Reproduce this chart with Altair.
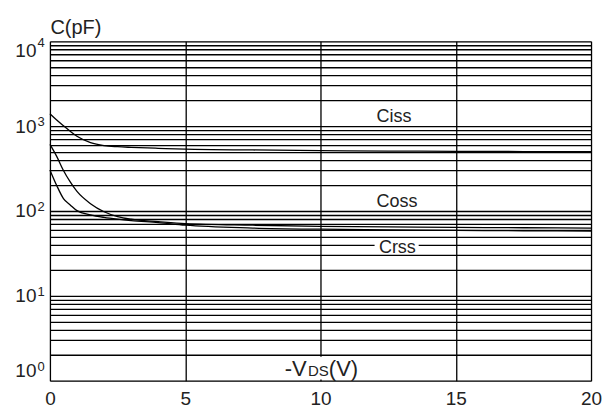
import altair as alt
import pandas as pd

# ---- data ----
vds = [0, 0.25, 0.5, 0.75, 1, 1.5, 2, 2.5, 3, 4, 5, 7.5, 10, 12.5, 15, 17.5, 20]
ciss = [1400, 1180, 1010, 870, 760, 640, 590, 572, 562, 548, 536, 524, 515, 509, 505, 502, 500]
coss = [610, 440, 300, 220, 170, 122, 98, 86, 80, 75, 71, 68, 66, 65, 64, 63.5, 63]
crss = [305, 200, 140, 118, 101, 90, 84, 80, 77, 73, 68, 63, 61, 60, 59, 58.5, 58]

x_ticks = [0, 5, 10, 15, 20]
y_grid = [m * 10 ** e for e in range(0, 4) for m in range(1, 10)] + [10000]
decades = [1, 10, 100, 1000, 10000]
exponents = ["0", "1", "2", "3", "4"]

curve_labels = ["Ciss", "Coss", "Crss"]
label_x = [12.07, 12.07, 12.16]
label_y = [1105, 110, 31.7]

box_x = [12.0, 8.6]
box_x2 = [13.63, 11.41]
box_y = [31.5, 1.03]
box_y2 = [44.5, 1.92]

xlab_text = ["-V", "DS", "(V)"]
xlab_x = [8.68, 9.54, 10.31]
xlab_size = [22, 15, 22]
xlab_y = [1.145, 1.145, 1.145]

FONT = "Liberation Sans"
TXT = "#222222"

rows = []
for name, vals in (("Ciss", ciss), ("Coss", coss), ("Crss", crss)):
    for v, c in zip(vds, vals):
        rows.append({"vds": v, "c": c, "series": name})
df = pd.DataFrame(rows)

xscale = alt.Scale(domain=[0, 20], nice=False)
yscale = alt.Scale(type="log", domain=[1, 10000], nice=False)

label_expr = "indexof([1,10,100,1000,10000], datum.value) >= 0 ? '10' : ''"

lines = alt.Chart(df).mark_line(color="black", strokeWidth=1.3, interpolate="monotone").encode(
    x=alt.X("vds:Q", scale=xscale,
            axis=alt.Axis(values=x_ticks, grid=True, gridColor="black", gridWidth=1.3,
                          gridOpacity=1, ticks=False, domain=False, labelFontSize=19,
                          labelFont=FONT, labelColor=TXT, labelPadding=9, labelFlush=False,
                          title=None)),
    y=alt.Y("c:Q", scale=yscale,
            axis=alt.Axis(values=y_grid, grid=True, gridColor="black", gridWidth=1.3,
                          gridOpacity=1, ticks=False, domain=False, labelFontSize=19,
                          labelFont=FONT, labelColor=TXT, labelPadding=14,
                          labelExpr=label_expr, labelOverlap=False, labelFlush=True,
                          title="C(pF)", titleAngle=0, titleX=0, titleY=-8,
                          titleAlign="left", titleBaseline="alphabetic",
                          titleFont=FONT, titleFontSize=20, titleFontWeight="normal",
                          titleColor=TXT)),
    detail="series:N",
)

exp_df = pd.DataFrame({"v": decades, "t": exponents})


def exp_layer(data, dy):
    return alt.Chart(data).mark_text(
        align="left", baseline="alphabetic", font=FONT, fontSize=13, color=TXT, dy=dy
    ).encode(x=alt.value(-12.5), y=alt.Y("v:Q", scale=yscale), text="t:N")


exp_mid = exp_layer(exp_df.iloc[1:4], 0)
exp_top = exp_layer(exp_df.iloc[4:5], 6)
exp_bot = exp_layer(exp_df.iloc[0:1], -10)

boxes = alt.Chart(pd.DataFrame({"x": box_x, "x2": box_x2, "y": box_y, "y2": box_y2})).mark_rect(
    color="white", opacity=1
).encode(
    x=alt.X("x:Q", scale=xscale), x2="x2:Q",
    y=alt.Y("y:Q", scale=yscale), y2="y2:Q",
)

clabels = alt.Chart(pd.DataFrame({"t": curve_labels, "x": label_x, "y": label_y})).mark_text(
    align="left", baseline="alphabetic", font=FONT, fontSize=18, color=TXT
).encode(
    x=alt.X("x:Q", scale=xscale), y=alt.Y("y:Q", scale=yscale), text="t:N"
)

xlab = alt.Chart(pd.DataFrame({"t": xlab_text, "x": xlab_x, "y": xlab_y, "s": xlab_size})).mark_text(
    align="left", baseline="alphabetic", font=FONT, color=TXT
).encode(
    x=alt.X("x:Q", scale=xscale), y=alt.Y("y:Q", scale=yscale), text="t:N",
    size=alt.Size("s:Q", scale=None, legend=None),
)

chart = alt.layer(lines, boxes, clabels, xlab, exp_mid, exp_top, exp_bot).properties(
    width=542, height=340,
    autosize=alt.AutoSizeParams(type="none"),
    padding={"left": 42, "top": 33, "right": 15, "bottom": 30},
).configure_view(stroke="black", strokeWidth=1.5).configure(background="white")

chart.save("out.html", embed_options={"renderer": "svg", "actions": False})
